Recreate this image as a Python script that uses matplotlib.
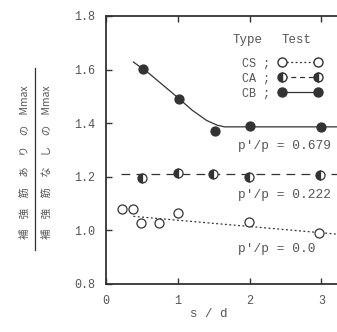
import numpy as np
import matplotlib
matplotlib.use('Agg')
import matplotlib.pyplot as plt
from matplotlib.lines import Line2D

# data
cs_x = [0.22, 0.37, 0.48, 0.73, 1.0, 1.99, 2.97]
cs_y = [1.079, 1.079, 1.027, 1.027, 1.064, 1.03, 0.99]
cs_fit_x = [0.38, 3.5]
cs_fit_y = [1.052, 0.979]

ca_x = [0.5, 1.0, 1.49, 1.99, 2.98]
ca_y = [1.195, 1.214, 1.21, 1.20, 1.206]
ca_fit_x = [0.2, 3.5]
ca_fit_y = [1.21, 1.21]

cb_x = [0.52, 1.02, 1.52, 2.01, 3.0]
cb_y = [1.603, 1.49, 1.371, 1.39, 1.386]
cb_fit_x = [0.38, 0.6, 0.8, 1.0, 1.2, 1.4, 1.55, 1.65, 3.5]
cb_fit_y = [1.628, 1.585, 1.54, 1.495, 1.448, 1.41, 1.392, 1.386, 1.386]

ratio_labels = ["p'/p = 0.679", "p'/p = 0.222", "p'/p = 0.0"]
ratio_pos = [(1.84, 1.315), (1.84, 1.13), (1.84, 0.93)]

type_labels = ['CS ;', 'CA ;', 'CB ;']
ylab_top = '補\u3000強\u3000筋\u3000あ\u3000り\u3000の\u3000Mmax'
ylab_bot = '補\u3000強\u3000筋\u3000な\u3000し\u3000の\u3000Mmax'

TXT = '#555555'
INK = '#333333'
MONO = 'Liberation Mono'
JP = ['Noto Sans CJK JP', 'DejaVu Sans']

fig = plt.figure(figsize=(3.37, 3.32), dpi=100)
ax = fig.add_axes([0.315, 0.145, 0.745, 0.807])

ms = 6.5
ax.plot(cs_fit_x, cs_fit_y, ls=(0, (1.5, 2)), color=INK, lw=0.9)
ax.plot(ca_fit_x, ca_fit_y, ls=(0, (7, 5)), color=INK, lw=0.9)
ax.plot(cb_fit_x, cb_fit_y, ls='-', color=INK, lw=0.9)

ax.plot(cs_x, cs_y, 'o', ms=ms, mfc='white', mec=INK, mew=0.9)
ax.plot(ca_x, ca_y, 'o', ms=ms, fillstyle='left', mfc=INK,
        markerfacecoloralt='white', mec=INK, mew=0.9)
ax.plot(cb_x, cb_y, 'o', ms=ms, mfc=INK, mec=INK, mew=0.9)

for lab, (x, y) in zip(ratio_labels, ratio_pos):
    ax.text(x, y, lab, family=MONO, fontsize=9.3, color=TXT, va='center')

# legend
h_cs = Line2D([], [], ls=(0, (1.5, 2)), color=INK, lw=0.9, marker='o', ms=ms,
              mfc='white', mec=INK)
h_ca = Line2D([], [], ls=(0, (4, 3)), color=INK, lw=0.9, marker='o', ms=ms,
              fillstyle='left', mfc=INK, markerfacecoloralt='white', mec=INK)
h_cb = Line2D([], [], ls='-', color=INK, lw=0.9, marker='o', ms=ms,
              mfc=INK, mec=INK)
leg = ax.legend([h_cs, h_ca, h_cb], type_labels,
                markerfirst=False, numpoints=2,
                handlelength=3.65, handletextpad=0.75, labelspacing=0.25,
                frameon=False, loc='upper right', bbox_to_anchor=(0.9, 0.885),
                prop={'family': MONO, 'size': 8.5})
for t in leg.get_texts():
    t.set_color(TXT)
ax.text(1.97, 1.712, 'Type', family=MONO, fontsize=9, color=TXT,
        ha='center', va='center')
ax.text(2.65, 1.712, 'Test', family=MONO, fontsize=9, color=TXT,
        ha='center', va='center')

ax.set_xlim(0, 3.5)
ax.set_ylim(0.8, 1.8)
ax.set_xticks([0, 1, 2, 3])
ax.set_yticks([0.8, 1.0, 1.2, 1.4, 1.6, 1.8])
ax.set_yticklabels(['0.8', '1.0', '1.2', '1.4', '1.6', '1.8'])
ax.tick_params(direction='in', length=4, width=1, color=INK,
               top=True, labelcolor=TXT, labelsize=8.5, pad=8)
for lbl in ax.get_xticklabels() + ax.get_yticklabels():
    lbl.set_fontfamily(MONO)
for s in ax.spines.values():
    s.set_color(INK)
    s.set_linewidth(1.3)

ax.set_xlabel('s / d', family=MONO, fontsize=9, color=TXT, labelpad=10)
ax.xaxis.set_label_coords(0.41, -0.09)

# fraction label on the left
fig.text(0.074, 0.51, ylab_top, rotation=90, family=JP,
         fontsize=7.5, color=TXT, ha='center', va='center')
fig.text(0.139, 0.51, ylab_bot, rotation=90, family=JP,
         fontsize=7.5, color=TXT, ha='center', va='center')
fig.add_artist(Line2D([0.104, 0.104], [0.247, 0.795], transform=fig.transFigure,
                      color=INK, lw=0.9))

fig.savefig('out.png', dpi=100)
